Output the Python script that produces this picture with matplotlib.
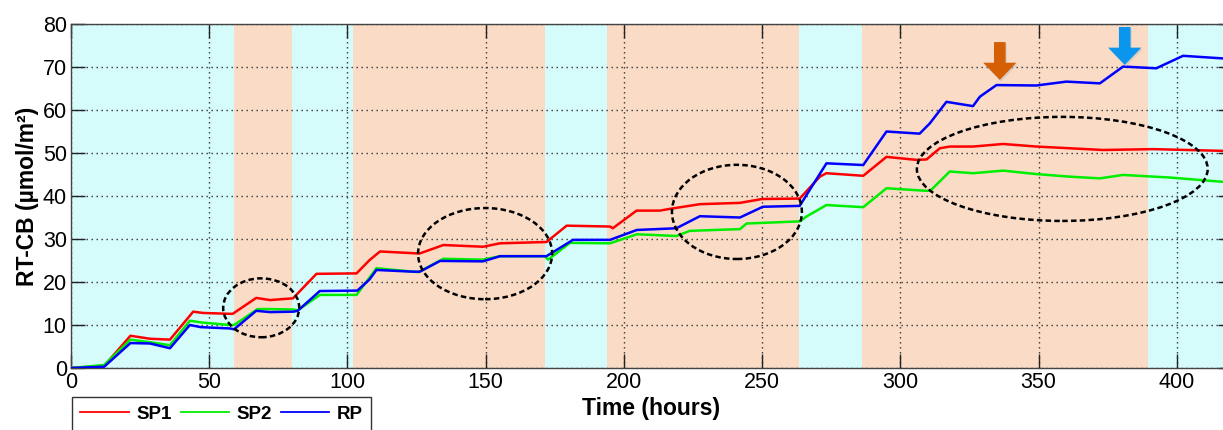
import matplotlib
matplotlib.use("Agg")
import matplotlib.pyplot as plt
from matplotlib.patches import Ellipse, FancyArrow

plt.rcParams['font.family'] = ['Liberation Sans', 'DejaVu Sans']

# ---- data ----
sp1_t = [0, 12, 21.5, 28.6, 35.8, 44.2, 47.8, 57.5, 58.5, 67, 72, 80.3, 88.8, 103.3, 108, 111.8,
         123.8, 126, 134.7, 149.1, 155.2, 172, 179.3, 195, 196, 204.6, 213, 216.6, 227.5, 242, 250,
         263.6, 270.9, 273.3, 286.6, 295, 305.8, 309.5, 314.3, 317.9, 326.3, 337.2, 349.2, 361.3,
         373.3, 391.4, 416.6, 420]
sp1_v = [0, 0.5, 7.5, 6.8, 6.6, 13.1, 12.8, 12.6, 12.6, 16.3, 15.8, 16.2, 21.9, 22.0, 25.1, 27.1,
         26.7, 26.6, 28.6, 28.2, 29.0, 29.3, 33.1, 32.9, 32.5, 36.6, 36.6, 37.0, 38.1, 38.4, 39.3,
         39.4, 44.5, 45.3, 44.7, 49.1, 48.4, 48.5, 51.1, 51.5, 51.5, 52.1, 51.5, 51.1,
         50.7, 50.9, 50.5, 50.5]

sp2_t = [0, 12, 21.5, 28.6, 35.8, 43, 47, 57.5, 59, 67.5, 72, 80.5, 82, 90, 103.3, 110.5, 123.8,
         125.7, 134.7, 149, 155.2, 171.4, 172.6, 180.5, 195, 204.7, 219, 223.9, 242, 244.4, 263.6,
         266, 273.3, 286.6, 295, 309.5, 311, 317.9, 326.3, 337.2, 349.2, 361.3, 372.2, 380.6,
         397.4, 416.6, 420]
sp2_v = [0, 0.7, 6.6, 6.0, 5.3, 11.0, 10.6, 10.0, 10.0, 13.7, 13.7, 13.6, 13.4, 17.0, 17.0, 23.2, 22.4,
         22.3, 25.4, 25.2, 26.0, 26.0, 25.2, 29.1, 29.0, 31.1, 30.7, 31.9, 32.3, 33.6, 34.1,
         35.2, 37.9, 37.4, 41.8, 41.2, 41.3, 45.7, 45.3, 45.9, 45.1, 44.5, 44.1, 44.9,
         44.3, 43.3, 43.3]

rp_t = [0, 12, 21.5, 28.6, 35.8, 43, 47, 57.5, 59, 67, 72, 80.5, 82, 90, 103.6, 108, 110.5, 123.8,
        126.2, 133.5, 149, 155.2, 172, 181.6, 195, 204.7, 219, 227.5, 242, 250.3, 263.6,
        273.3, 286.6, 295, 307, 310.7, 316.7, 326.3, 328.8, 334.8, 349.2, 360.1, 372.2,
        380.6, 392.6, 402.3, 416.6, 420]
rp_v = [0, 0.3, 5.8, 5.7, 4.6, 10.0, 9.5, 9.2, 9.0, 13.3, 13.0, 13.1, 13.3, 17.9, 18.0, 20.6, 22.8, 22.4,
        22.4, 24.9, 24.8, 26.0, 26.0, 29.8, 29.8, 32.1, 32.5, 35.3, 35.0, 37.5, 37.7,
        47.6, 47.2, 55.0, 54.5, 56.9, 61.9, 60.9, 63.1, 65.8, 65.7, 66.6, 66.2,
        70.1, 69.7, 72.6, 72.0, 72.0]

# background periods (start, end, kind)
span_start = [0, 59, 80, 102, 171.5, 194, 263.3, 286, 389.5]
span_end = [59, 80, 102, 171.5, 194, 263.3, 286, 389.5, 425]
span_kind = ['c', 'o', 'c', 'o', 'c', 'o', 'c', 'o', 'c']

# dashed ellipses (center x, center y, width, height)
ell_cx = [68.8, 149.8, 240.9, 358.6]
ell_cy = [14.0, 26.6, 36.3, 46.3]
ell_w = [27.5, 48.5, 47.0, 105.2]
ell_h = [13.7, 21.2, 21.9, 24.2]

# arrows (x, top y, tip y)
arr_x = [336, 381.2]
arr_top = [75.8, 79.3]
arr_tip = [67.0, 70.5]
arr_col = ['#D45F05', '#0A96EC']

# ---- figure ----
fig = plt.figure(figsize=(12.23, 4.30), dpi=100)
ax = fig.add_axes([71 / 1223, 62 / 430, 1161 / 1223, 344 / 430])

span_colors = {'c': '#D6FBFB', 'o': '#F9DBC6'}
for s, e, k in zip(span_start, span_end, span_kind):
    ax.axvspan(s, e, color=span_colors[k], lw=0, zorder=0)

l1, = ax.plot(sp1_t, sp1_v, color='#FF0000', lw=1.8, label='SP1', zorder=3)
l2, = ax.plot(sp2_t, sp2_v, color='#00EE00', lw=1.8, label='SP2', zorder=3)
l3, = ax.plot(rp_t, rp_v, color='#0000FF', lw=1.8, label='RP', zorder=4)

for cx, cy, w, h in zip(ell_cx, ell_cy, ell_w, ell_h):
    ax.add_patch(Ellipse((cx, cy), w, h, fill=False, edgecolor='black',
                         lw=1.8, linestyle=(0, (2.2, 1.3)), zorder=5))

for x, top, tip, c in zip(arr_x, arr_top, arr_tip, arr_col):
    ax.add_patch(FancyArrow(x + 0.4, top - 0.4, 0, tip - top, width=4.2, head_width=12.0,
                            head_length=4.0, length_includes_head=True,
                            color='#BBBBBB', alpha=0.5, lw=0, zorder=5.5))
    ax.add_patch(FancyArrow(x, top, 0, tip - top, width=4.2, head_width=12.0,
                            head_length=4.0, length_includes_head=True,
                            color=c, lw=0, zorder=6))

ax.set_xlim(0, 420)
ax.set_ylim(0, 80)
ax.set_xticks(range(0, 401, 50))
ax.set_yticks(range(0, 81, 10))
ax.tick_params(direction='in', length=10, width=1, top=True, right=True,
               labelsize=15.5, pad=3, colors='#222222', labelcolor='black')
ax.grid(True, color='#333333', linestyle=(0, (1, 2.6)), lw=1.0)
for sp in ax.spines.values():
    sp.set_color('#444444')
    sp.set_linewidth(1.0)

ax.set_xlabel('Time (hours)', fontsize=16.5, fontweight='bold', labelpad=3)
ax.set_ylabel('RT-CB (µmol/m²)', fontsize=16.5, fontweight='bold', labelpad=3)

leg = fig.legend(handles=[l1, l2, l3], ncol=3, loc='upper left',
                 bbox_to_anchor=(72 / 1223, 1 - 397 / 430), prop={'weight': 'bold', 'size': 13.5},
                 frameon=True, fancybox=False, edgecolor='black', borderaxespad=0,
                 handlelength=2.6, handletextpad=0.4, columnspacing=0.45, borderpad=0.45)
leg.get_frame().set_linewidth(1.0)
for h in leg.get_lines():
    h.set_linewidth(1.3)

fig.savefig('out.png', dpi=100)
